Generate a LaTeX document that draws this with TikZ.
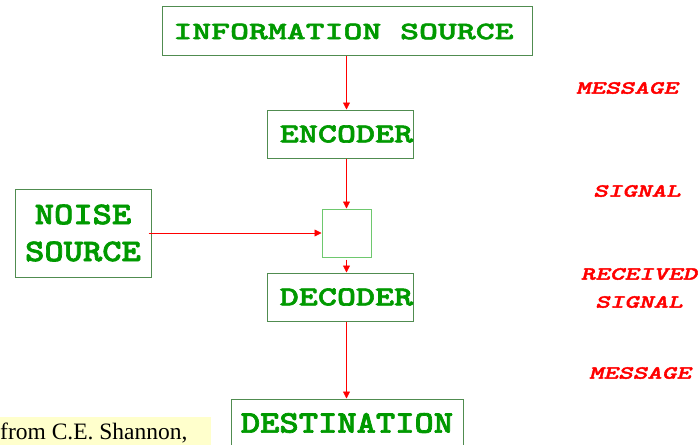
\documentclass[tikz,border=0pt]{standalone}
\usepackage{fontspec}
\setmainfont{Liberation Serif}
% heavy typewriter faces, widened to different degrees
\newcommand\monofaces[2]{\newfontfamily#1[Extension=.otf, UprightFont=lmmonolt10-bold,
  BoldFont=lmmonolt10-bold, ItalicFont=lmmonolt10-boldoblique,
  BoldItalicFont=lmmonolt10-boldoblique, FakeStretch=#2, FakeBold=2.2]{lmmonolt10-bold}}
\monofaces\wideface{1.44}
\monofaces\midface{1.33}
\monofaces\tallface{1.17}
\monofaces\tagface{1.5}
\usetikzlibrary{arrows.meta}
\definecolor{txtgreen}{RGB}{0,153,0}
\definecolor{edgegreen}{RGB}{80,140,80}
\definecolor{lightgreen}{RGB}{110,200,110}
\definecolor{sigred}{RGB}{255,0,0}
\definecolor{notebg}{RGB}{255,255,204}
\tikzset{
  stage/.style={draw=edgegreen, line width=1pt, text=txtgreen,
    align=center, inner sep=0pt},
  widetext/.style={font=\wideface\fontsize{25}{30}\selectfont},
  midtext/.style={font=\midface\fontsize{27.3}{33}\selectfont},
  talltext/.style={font=\tallface\fontsize{31.4}{37}\selectfont},
  flow/.style={draw=sigred, line width=0.8pt,
    -{Triangle[length=7pt,width=7pt]}},
  chan/.style={text=sigred, font=\tagface\itshape\fontsize{18.5}{28}\selectfont,
    align=center}
}
\begin{document}
\begin{tikzpicture}[x=1pt,y=-1pt]
\useasboundingbox (0,0) rectangle (698,444);
% blocks of the communication system
\node[stage, widetext, minimum width=370pt, minimum height=49pt] (src) at (347.5,31.5) {\hspace*{-8pt}INFORMATION SOURCE};
\node[stage, midtext, minimum width=145pt, minimum height=48pt] (enc) at (340.5,134) {\hspace*{12pt}ENCODER};
\node[stage, talltext, minimum width=136pt, minimum height=88pt] (noise) at (83,233) {NOISE\\SOURCE};
\node[draw=lightgreen, line width=1pt, minimum width=49pt, minimum height=48pt, inner sep=0pt] (chn) at (346.5,233) {};
\node[stage, midtext, minimum width=145pt, minimum height=48pt] (dec) at (340.5,297) {\hspace*{12pt}DECODER};
\node[stage, talltext, minimum width=232pt, minimum height=48pt] (dst) at (347,423) {DESTINATION};
% signal path
\draw[flow] (src.south -| chn.north) -- (enc.north -| chn.north);
\draw[flow] (enc.south -| chn.north) -- (chn.north);
\draw[flow, shorten <=2pt] (chn.south) -- (dec.north -| chn.south);
\draw[flow] (dec.south -| chn.south) -- (dst.north -| chn.south);
\draw[flow] ([xshift=-3pt]noise.east) -- (chn.west);
% what travels on each link
\node[chan] (m1) at (627,88) {MESSAGE};
\node[chan] (s1) at (637,191) {SIGNAL};
\node[chan] (rs) at (639,288) {RECEIVED\\SIGNAL};
\node[chan] (m2) at (640,373) {MESSAGE};
% citation note
\fill[notebg] (0,417) rectangle (211,446);
\node[anchor=base west, inner sep=0pt, font=\fontsize{23.5}{28}\selectfont] (cite) at (0,439) {from C.E. Shannon,};
\end{tikzpicture}
\end{document}
